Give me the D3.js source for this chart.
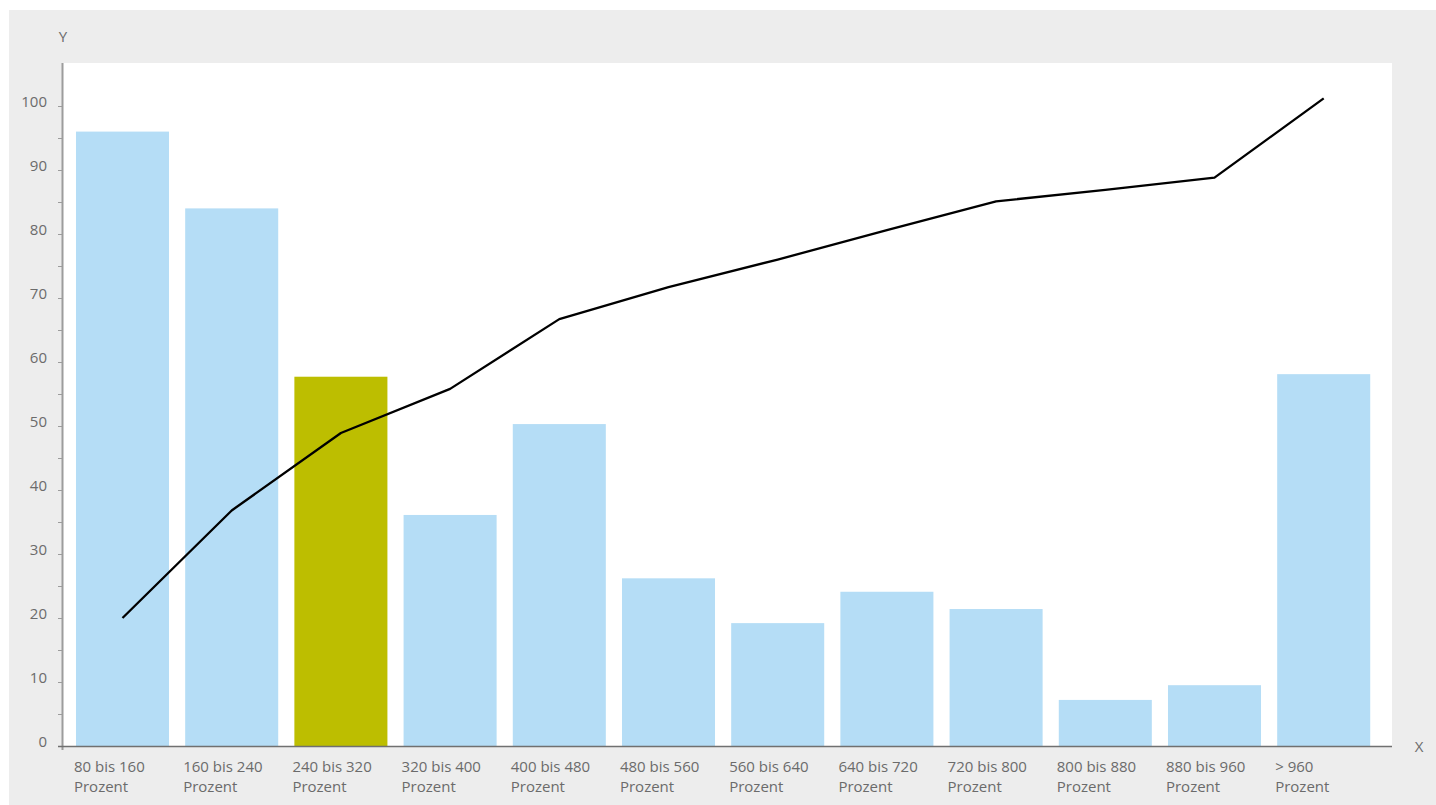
<!DOCTYPE html>
<html>
<head>
<meta charset="utf-8">
<script src="https://cdn.jsdelivr.net/npm/d3@7"></script>
<style>
  html, body { margin: 0; padding: 0; background: #ffffff; }
  svg { display: block; }
  text { font-family: "Open Sans", "Noto Sans", sans-serif; fill: #6b6b6b; }
</style>
</head>
<body>
<svg id="chart" width="1436" height="805"></svg>
<script>
const categories = ["80 bis 160", "160 bis 240", "240 bis 320", "320 bis 400", "400 bis 480", "480 bis 560",
                    "560 bis 640", "640 bis 720", "720 bis 800", "800 bis 880", "880 bis 960", "> 960"];
const categorySubLabel = "Prozent";
const barValues = [96, 84, 57.7, 36.1, 50.3, 26.2, 19.2, 24.1, 21.4, 7.2, 9.5, 58.1];
const lineValues = [20, 36.8, 48.9, 55.8, 66.7, 71.7, 76.0, 80.6, 85.1, 86.9, 88.8, 101.2];
const highlightCategory = "240 bis 320";
const yMajorTicks = [0, 10, 20, 30, 40, 50, 60, 70, 80, 90, 100];
const yMinorTicks = [5, 15, 25, 35, 45, 55, 65, 75, 85, 95];
const axisLabelX = "X";
const axisLabelY = "Y";

const svg = d3.select("#chart");

// layout
const plot = { left: 63, right: 1392, top: 63, bottom: 746 };

// background
svg.append("rect").attr("x", 9).attr("y", 10).attr("width", 1436 - 9).attr("height", 805 - 10).attr("fill", "#ededed");
svg.append("rect").attr("x", plot.left).attr("y", plot.top)
   .attr("width", plot.right - plot.left).attr("height", plot.bottom - plot.top).attr("fill", "#ffffff");

const x = d3.scaleBand().domain(categories).range([67.9, 1378.3]).paddingInner(0.148).paddingOuter(0.074);
const y = d3.scaleLinear().domain([0, 100]).range([plot.bottom, 106]);

// bars
svg.append("g").selectAll("rect").data(categories).join("rect")
  .attr("x", d => x(d))
  .attr("width", x.bandwidth())
  .attr("y", (d, i) => y(barValues[i]))
  .attr("height", (d, i) => y(0) - y(barValues[i]))
  .attr("fill", d => d === highlightCategory ? "#bdbe00" : "#b5ddf6");

// line
const line = d3.line().x((d, i) => x(categories[i]) + x.bandwidth() / 2).y(d => y(d));
svg.append("path").datum(lineValues)
  .attr("d", line).attr("fill", "none").attr("stroke", "#000").attr("stroke-width", 2.3)
  .attr("stroke-linejoin", "round");

// y axis
const yAxisG = svg.append("g").attr("transform", `translate(${plot.left},0)`);
yAxisG.call(d3.axisLeft(y).tickValues(yMajorTicks).tickSize(5).tickPadding(11).tickSizeOuter(0));
yAxisG.select(".domain").remove();
yAxisG.selectAll(".tick line").attr("stroke", "#9c9c9c");
yAxisG.selectAll(".tick text").attr("dy", "0.5").style("font-size", "15px").attr("fill", "#6b6b6b")
  .style("font-family", "'Open Sans', 'Noto Sans', sans-serif");
const yMinorG = svg.append("g").attr("transform", `translate(${plot.left},0)`);
yMinorG.call(d3.axisLeft(y).tickValues(yMinorTicks).tickSize(5).tickFormat(""));
yMinorG.select(".domain").remove();
yMinorG.selectAll(".tick line").attr("stroke", "#9c9c9c");

svg.append("line").attr("x1", plot.left - 0.5).attr("x2", plot.left - 0.5)
  .attr("y1", plot.top).attr("y2", plot.bottom + 4).attr("stroke", "#9c9c9c").attr("stroke-width", 2);

// x axis line
svg.append("line").attr("x1", plot.left - 5).attr("x2", plot.right)
  .attr("y1", plot.bottom + 0.5).attr("y2", plot.bottom + 0.5).attr("stroke", "#707070").attr("stroke-width", 1.5);

// category labels
const labels = svg.append("g").selectAll("text").data(categories).join("text")
  .attr("x", d => x(d) - 2)
  .attr("y", 771.5)
  .style("font-size", "15px");
labels.append("tspan").attr("x", d => x(d) - 2).text(d => d);
labels.append("tspan").attr("x", d => x(d) - 2).attr("dy", 20).text(categorySubLabel);

// axis titles
svg.append("text").attr("x", 63).attr("y", 42).attr("text-anchor", "middle").style("font-size", "15px").text(axisLabelY);
svg.append("text").attr("x", 1419).attr("y", 752).attr("text-anchor", "middle").style("font-size", "15px").text(axisLabelX);
</script>
</body>
</html>
